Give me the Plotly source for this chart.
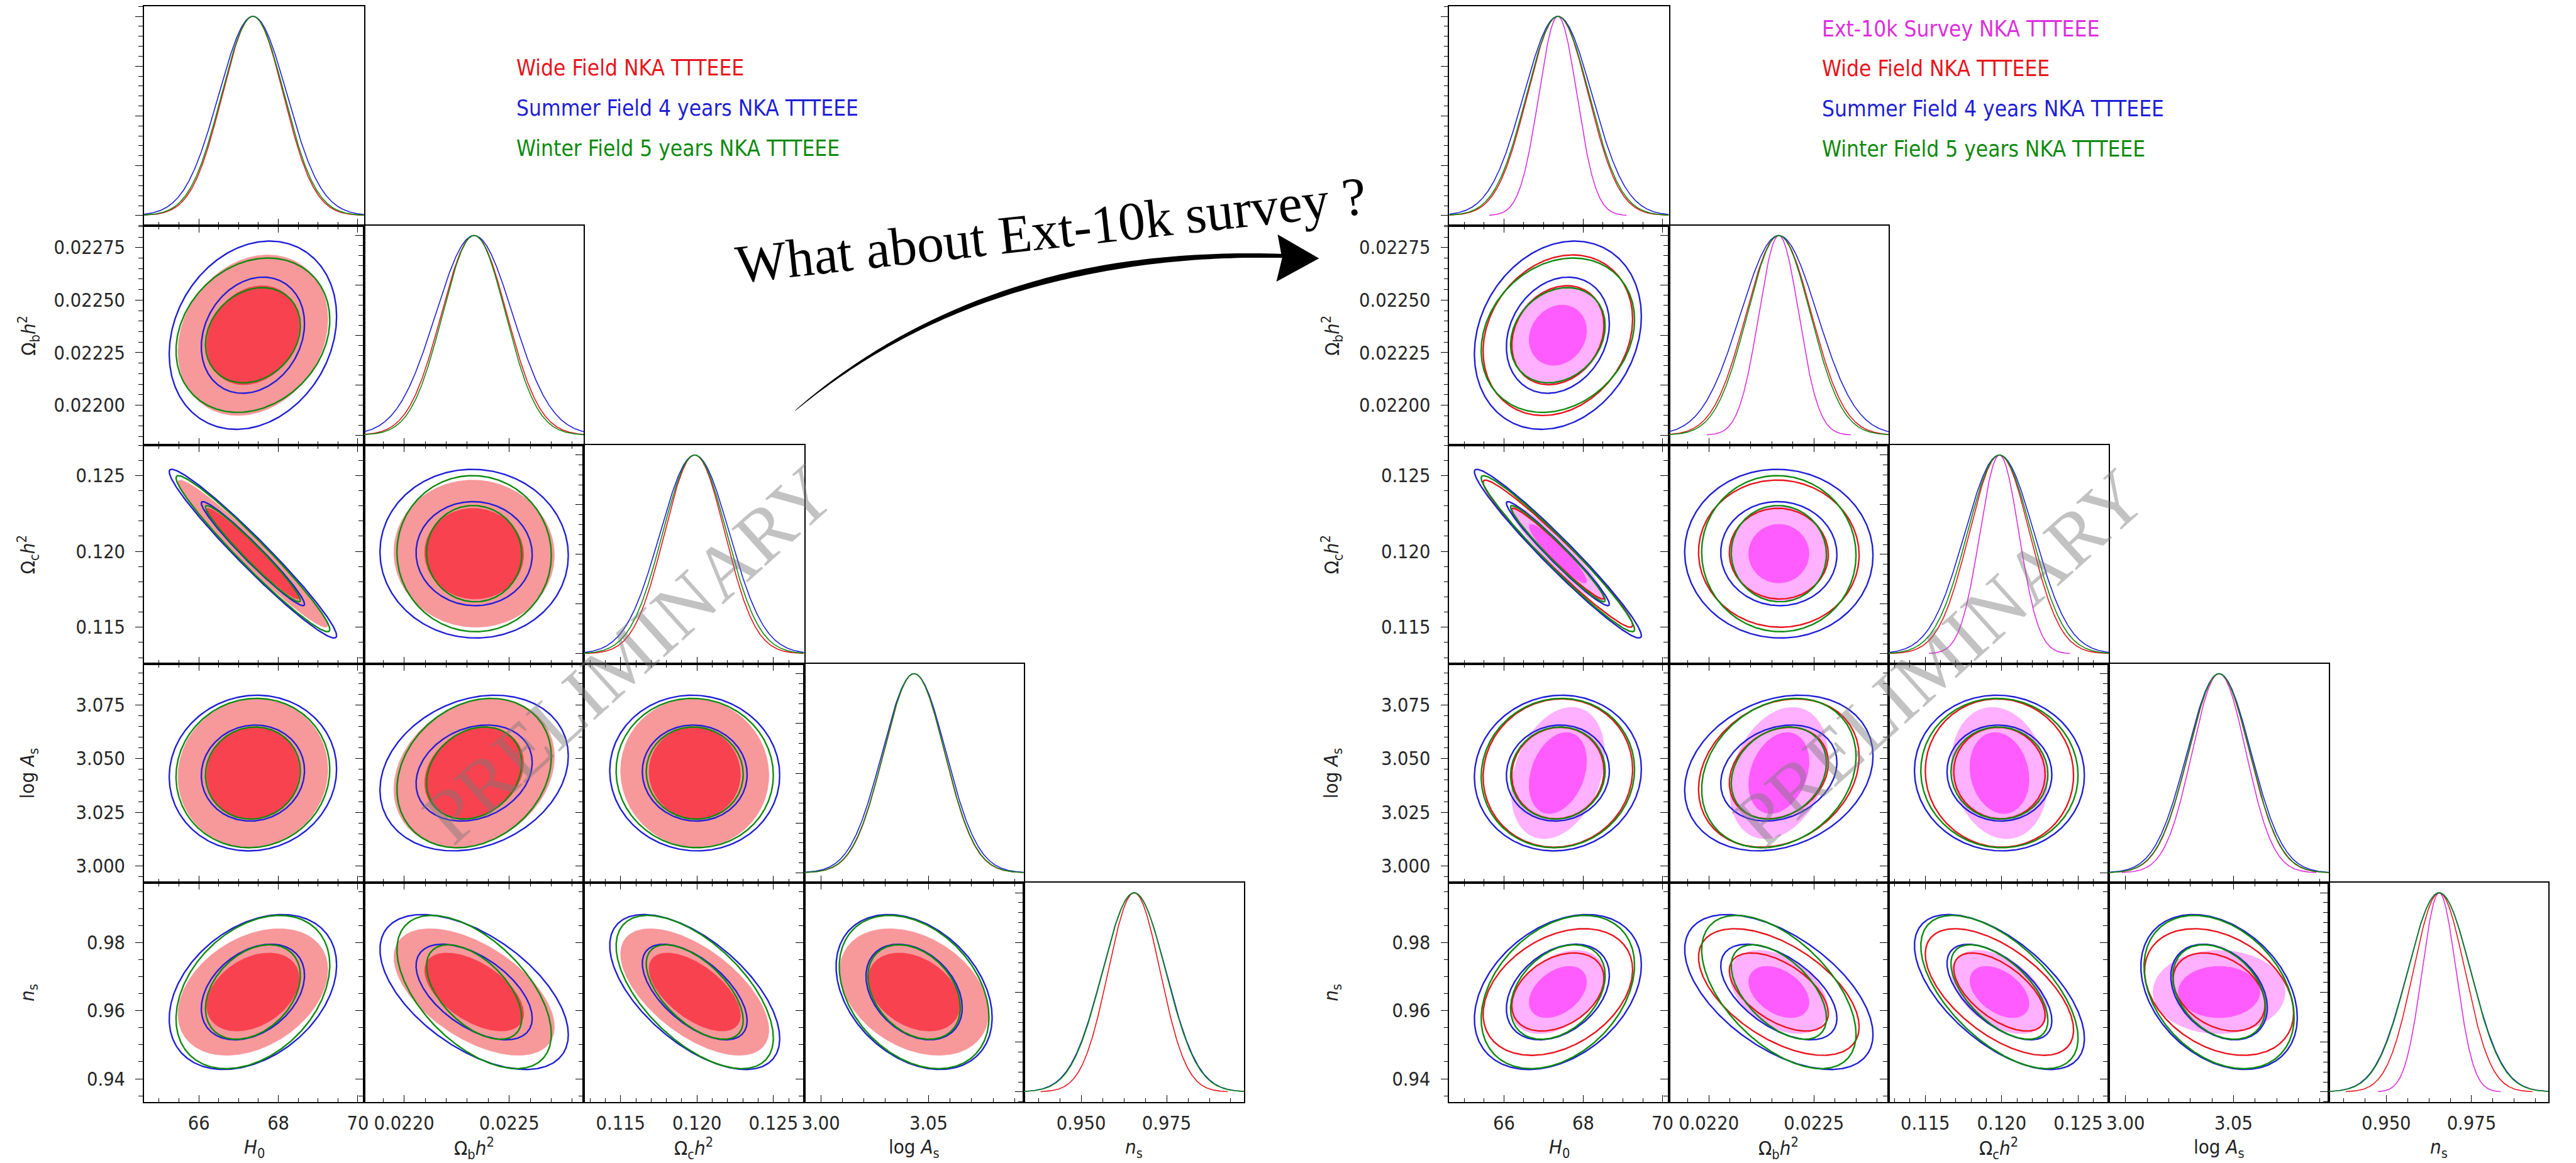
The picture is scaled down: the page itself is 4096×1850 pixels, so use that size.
import numpy as np
import plotly.graph_objects as go

W, H = 4096, 1850

# ---------------- data ----------------
PARAM_TITLES = ["<i>H</i><sub>0</sub>", "Ω<sub>b</sub><i>h</i><sup>2</sup>",
                "Ω<sub>c</sub><i>h</i><sup>2</sup>", "log <i>A</i><sub>s</sub>", "<i>n</i><sub>s</sub>"]
MEANS = [67.36, 0.022333, 0.11985, 3.0433, 0.9655]

SIG_WIDE   = [0.77, 1.56e-4, 1.98e-3, 0.0141, 0.0076]
SIG_SUMMER = [0.86, 1.83e-4, 2.27e-3, 0.0148, 0.0093]
SIG_WINTER = [0.79, 1.50e-4, 2.10e-3, 0.0142, 0.0092]
SIG_EXT    = [0.48, 0.95e-4, 1.28e-3, 0.0125, 0.0050]

PAIRS = [(0, 1), (0, 2), (0, 3), (0, 4), (1, 2), (1, 3), (1, 4), (2, 3), (2, 4), (3, 4)]
RHO_FIELDS = [0.20, -0.97, 0.05, 0.35, -0.02, 0.22, -0.55, -0.03, -0.60, -0.33]
RHO_EXT    = [0.15, -0.93, 0.30, 0.40, 0.00, 0.28, -0.40, -0.15, -0.45, 0.00]

CONTOUR_LEVELS = [0.95, 0.68]
CUT_SIGMA = 3.6

RANGES = [[64.62, 70.16], [0.02181, 0.022855], [0.1126, 0.1270], [2.9922, 3.0942], [0.9332, 0.9976]]
XTICKS = [[66, 68, 70], [0.0220, 0.0225], [0.115, 0.120, 0.125], [3.00, 3.05], [0.950, 0.975]]
XTICKTEXT = [["66", "68", "70"], ["0.0220", "0.0225"], ["0.115", "0.120", "0.125"], ["3.00", "3.05"], ["0.950", "0.975"]]
XMINOR = [0.5, 0.0001, 0.001, 0.01, 0.00625]
YTICKS = [None, [0.0220, 0.02225, 0.0225, 0.02275], [0.115, 0.120, 0.125], [3.000, 3.025, 3.050, 3.075], [0.94, 0.96, 0.98]]
YTICKTEXT = [None, ["0.02200", "0.02225", "0.02250", "0.02275"], ["0.115", "0.120", "0.125"],
             ["3.000", "3.025", "3.050", "3.075"], ["0.94", "0.96", "0.98"]]
YMINOR = [None, 0.00005, 0.001, 0.005, 0.005]
Y1D_RANGE = [-0.05, 1.05]
Y1D_TICKS = [0, 0.25, 0.5, 0.75, 1.0]
Y1D_MINOR = 0.05

LEG_LEFT = ["Wide Field NKA TTTEEE", "Summer Field 4 years NKA TTTEEE", "Winter Field 5 years NKA TTTEEE"]
LEG_RIGHT = ["Ext-10k Survey NKA TTTEEE"] + LEG_LEFT

# ---------------- styles ----------------
RED, BLUE, GREEN, MAG = "#e8141c", "#1f1fd6", "#0d8a0d", "#dd2edd"
RED_IN, RED_OUT = "#f9424f", "#f7989b"
MAG_IN, MAG_OUT = "#ff5cff", "#ffb0ff"

S = 0.848
COLS_LEFT = [v * S for v in [266, 680, 1093, 1507, 1920, 2334]]
COLS_RIGHT = [v * S for v in [2720, 3133, 3546, 3960, 4374, 4787]]
ROWS = [v * S for v in [12, 423, 835, 1245, 1656, 2067]]

FONT = "DejaVu Sans Condensed, DejaVu Sans"
TICKFONT = dict(family=FONT, size=30.5, color="#262626")

DATA_LEFT = [
    dict(sig=SIG_WIDE, rho=RHO_FIELDS, color=RED, fill=(RED_OUT, RED_IN)),
    dict(sig=SIG_SUMMER, rho=RHO_FIELDS, color=BLUE, fill=None),
    dict(sig=SIG_WINTER, rho=RHO_FIELDS, color=GREEN, fill=None),
]
DATA_RIGHT = [
    dict(sig=SIG_EXT, rho=RHO_EXT, color=MAG, fill=(MAG_OUT, MAG_IN)),
    dict(sig=SIG_WIDE, rho=RHO_FIELDS, color=RED, fill=None),
    dict(sig=SIG_SUMMER, rho=RHO_FIELDS, color=BLUE, fill=None),
    dict(sig=SIG_WINTER, rho=RHO_FIELDS, color=GREEN, fill=None),
]


def ellipse(mx, my, sx, sy, rho, level, n=300):
    r = np.sqrt(-2 * np.log(1 - level))
    t = np.linspace(0, 2 * np.pi, n)
    u, v = np.cos(t), np.sin(t)
    return mx + r * sx * u, my + r * sy * (rho * u + np.sqrt(1 - rho ** 2) * v)


def px2paper(x, y):
    return x / W, 1 - y / H


fig = go.Figure()
layout = {}
k = 0
for T, (cols, datasets) in enumerate([(COLS_LEFT, DATA_LEFT), (COLS_RIGHT, DATA_RIGHT)]):
    for i in range(5):
        for j in range(i + 1):
            k += 1
            sfx = "" if k == 1 else str(k)
            xr, yr = "x" + sfx, "y" + sfx
            diag = (i == j)
            # ---- traces
            if diag:
                lo, hi = RANGES[j]
                for d in datasets:
                    mu, sg = MEANS[j], d["sig"][j]
                    xs = np.linspace(max(lo, mu - CUT_SIGMA * sg), min(hi, mu + CUT_SIGMA * sg), 400)
                    ys = np.exp(-0.5 * ((xs - mu) / sg) ** 2)
                    fig.add_trace(go.Scatter(x=xs, y=ys, mode="lines", xaxis=xr, yaxis=yr,
                                             line=dict(color=d["color"], width=1.6),
                                             hoverinfo="skip", showlegend=False))
            else:
                p = PAIRS.index((j, i))
                for d in datasets:
                    for li, lev in enumerate(CONTOUR_LEVELS):
                        ex, ey = ellipse(MEANS[j], MEANS[i], d["sig"][j], d["sig"][i], d["rho"][p], lev)
                        if d["fill"]:
                            fig.add_trace(go.Scatter(x=ex, y=ey, mode="lines", fill="toself",
                                                     fillcolor=d["fill"][li], xaxis=xr, yaxis=yr,
                                                     line=dict(color=d["fill"][li], width=0.8),
                                                     hoverinfo="skip", showlegend=False))
                        else:
                            fig.add_trace(go.Scatter(x=ex, y=ey, mode="lines", xaxis=xr, yaxis=yr,
                                                     line=dict(color=d["color"], width=2.4),
                                                     hoverinfo="skip", showlegend=False))
            # ---- axes
            x0, x1 = cols[j] / W, cols[j + 1] / W
            y0, y1 = 1 - ROWS[i + 1] / H, 1 - ROWS[i] / H
            xdict = dict(
                domain=[x0, x1], anchor=yr, range=RANGES[j], showgrid=False, zeroline=False,
                showline=True, linecolor="black", linewidth=1.6,
                mirror=(True if diag else "ticks"),
                ticks="inside", ticklen=11, tickwidth=1.4, tickcolor="black",
                tickmode="array", tickvals=XTICKS[j],
                minor=dict(ticks="inside", ticklen=6, tickwidth=1.2, tickcolor="black",
                           tickmode="linear", tick0=XTICKS[j][0], dtick=XMINOR[j], showgrid=False),
                fixedrange=True)
            if i == 4:
                xdict.update(ticktext=XTICKTEXT[j], showticklabels=True, tickfont=TICKFONT,
                             ticklabeloverflow="allow", ticklabelstandoff=6)
            else:
                xdict.update(showticklabels=False)
            layout["xaxis" + sfx] = xdict
            if diag:
                ydict = dict(range=Y1D_RANGE, tickmode="array", tickvals=Y1D_TICKS, showticklabels=False,
                             minor=dict(ticks="outside", ticklen=7, tickwidth=1.2, tickcolor="black",
                                        tickmode="linear", tick0=0, dtick=Y1D_MINOR, showgrid=False))
            else:
                ydict = dict(range=RANGES[i], tickmode="array", tickvals=YTICKS[i],
                             minor=dict(ticks="outside", ticklen=7, tickwidth=1.2, tickcolor="black",
                                        tickmode="linear", tick0=YTICKS[i][0], dtick=YMINOR[i], showgrid=False))
                if j == 0:
                    ydict.update(ticktext=YTICKTEXT[i], showticklabels=True, tickfont=TICKFONT,
                                 ticklabelstandoff=10, ticklabeloverflow="allow")
                else:
                    ydict.update(showticklabels=False)
            layout["yaxis" + sfx] = dict(
                domain=[y0, y1], anchor=xr, showgrid=False, zeroline=False,
                showline=True, linecolor="black", linewidth=1.6, mirror=True,
                ticks="outside", ticklen=12, tickwidth=1.4, tickcolor="black",
                fixedrange=True, **ydict)

# ---------------- annotations ----------------
ann = []
TITLEFONT = dict(family=FONT, size=31, color="#222222")
for cols, ytx in [(COLS_LEFT, 41.5), (COLS_RIGHT, 2120)]:
    for j in range(5):
        xc = (cols[j] + cols[j + 1]) / 2
        ann.append(dict(x=xc / W, y=1 - 1826 / H, xref="paper", yref="paper", text=PARAM_TITLES[j],
                        showarrow=False, xanchor="center", yanchor="middle", font=TITLEFONT))
    for i in range(1, 5):
        yc = (ROWS[i] + ROWS[i + 1]) / 2
        ann.append(dict(x=ytx / W, y=1 - yc / H, xref="paper", yref="paper", text=PARAM_TITLES[i],
                        showarrow=False, xanchor="center", yanchor="middle", textangle=-90, font=TITLEFONT))

LEGFONT = "DejaVu Sans Condensed, DejaVu Sans"
for txt, col, yy in zip(LEG_LEFT, [RED, BLUE, GREEN], [108.5, 172, 236]):
    ann.append(dict(x=817.5 / W, y=1 - yy / H, xref="paper", yref="paper", text=txt, showarrow=False,
                    xanchor="left", yanchor="middle", font=dict(family=LEGFONT, size=35, color=col)))
for txt, col, yy in zip(LEG_RIGHT, [MAG, RED, BLUE, GREEN], [46, 109, 173, 237]):
    ann.append(dict(x=2899 / W, y=1 - yy / H, xref="paper", yref="paper", text=txt, showarrow=False,
                    xanchor="left", yanchor="middle", font=dict(family=LEGFONT, size=35, color=col)))

ann.append(dict(x=1671 / W, y=1 - 366 / H, xref="paper", yref="paper", text="What about Ext-10k survey ?",
                showarrow=False, xanchor="center", yanchor="middle", textangle=-6.3,
                font=dict(family="Liberation Serif, DejaVu Serif", size=86, color="black")))

for (cx, cy) in [(998, 1040), (3088, 1046)]:
    ann.append(dict(x=cx / W, y=1 - cy / H, xref="paper", yref="paper", text="PRELIMINARY",
                    showarrow=False, xanchor="center", yanchor="middle", textangle=-42,
                    font=dict(family="Liberation Serif, DejaVu Serif", size=122, color="rgba(120,120,120,0.45)")))

# ---------------- arrow (tapered curve + head) ----------------
Sx, Sy = 1264, 653
Cx, Cy = 1568, 395
Ex, Ey = 2040, 407
t = np.linspace(0, 1, 80)
Px = (1 - t) ** 2 * Sx + 2 * (1 - t) * t * Cx + t ** 2 * Ex
Py = (1 - t) ** 2 * Sy + 2 * (1 - t) * t * Cy + t ** 2 * Ey
Dx = 2 * (1 - t) * (Cx - Sx) + 2 * t * (Ex - Cx)
Dy = 2 * (1 - t) * (Cy - Sy) + 2 * t * (Ey - Cy)
nrm = np.hypot(Dx, Dy)
Nx, Ny = -Dy / nrm, Dx / nrm
wid = 0.8 + 9.0 * np.clip(t / 0.6, 0, 1) ** 0.8
wid = wid * (1 - 0.35 * np.clip((t - 0.7) / 0.3, 0, 1))
ux, uy = Px + Nx * wid / 2, Py + Ny * wid / 2
lx, ly = (Px - Nx * wid / 2)[::-1], (Py - Ny * wid / 2)[::-1]
pts = list(zip(np.concatenate([ux, lx]), np.concatenate([uy, ly])))
path = "M " + " L ".join("%.5f %.5f" % px2paper(a, b) for a, b in pts) + " Z"
head = [(2033, 373), (2099, 411), (2031, 448), (2040, 411)]
hpath = "M " + " L ".join("%.5f %.5f" % px2paper(a, b) for a, b in head) + " Z"
shapes = [dict(type="path", xref="paper", yref="paper", path=path, fillcolor="black", line=dict(width=0)),
          dict(type="path", xref="paper", yref="paper", path=hpath, fillcolor="black", line=dict(width=0))]

fig.update_layout(width=W, height=H, margin=dict(l=0, r=0, t=0, b=0, pad=0),
                  paper_bgcolor="white", plot_bgcolor="white", showlegend=False,
                  annotations=ann, shapes=shapes, **layout)
fig.write_html("out.html")
